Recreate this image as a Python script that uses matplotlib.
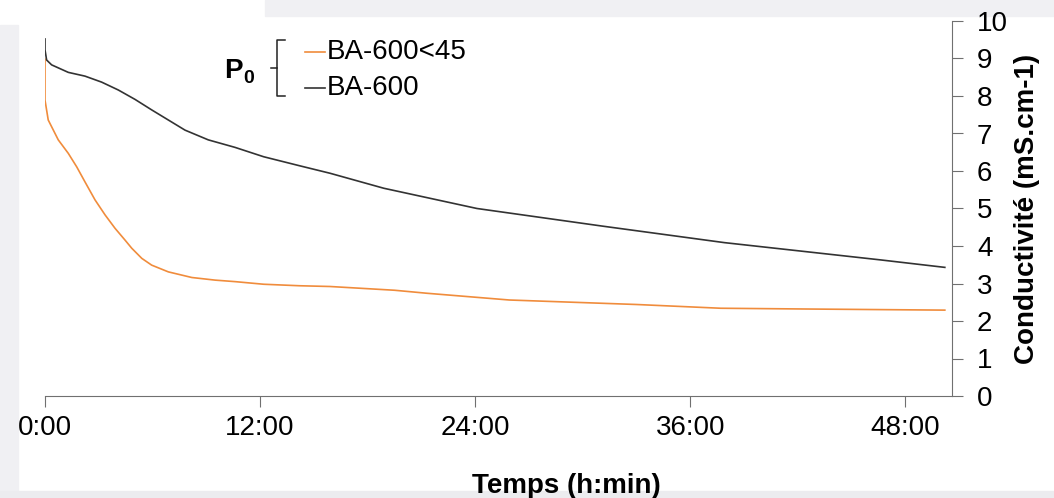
import matplotlib.pyplot as plt
from matplotlib.lines import Line2D
from matplotlib.patches import Rectangle

plt.rcParams['font.family'] = ['Liberation Sans', 'DejaVu Sans']

# Temps (heures) et conductivité (mS/cm)
t_ba600 = [0, 0, 0.09, 0.37, 1.30, 2.23, 3.16, 4.09, 5.02, 5.95, 6.88, 7.81,
           9.11, 10.6, 12.2, 14.2, 15.9, 18.9, 24.1, 31.1, 37.9, 46.6, 50.2]
c_ba600 = [9.52, 9.23, 8.96, 8.83, 8.63, 8.53, 8.37, 8.16, 7.91, 7.63, 7.36, 7.09,
           6.83, 6.63, 6.38, 6.14, 5.94, 5.54, 5.0, 4.53, 4.09, 3.63, 3.43]

t_ba600_45 = [0, 0, 0.18, 0.74, 1.30, 1.77, 2.23, 2.79, 3.35, 3.91, 4.46, 4.84,
              5.40, 5.95, 6.88, 8.19, 9.49, 10.6, 12.2, 14.2, 15.9, 19.5, 21.3,
              25.9, 33, 37.7, 42.4, 50.2]
c_ba600_45 = [8.98, 7.89, 7.36, 6.83, 6.47, 6.11, 5.71, 5.23, 4.83, 4.47, 4.16, 3.94,
              3.67, 3.49, 3.31, 3.16, 3.09, 3.05, 2.98, 2.94, 2.92, 2.82, 2.74,
              2.56, 2.44, 2.34, 2.32, 2.29]

xticks = [0, 12, 24, 36, 48]
xticklabels = ['0:00', '12:00', '24:00', '36:00', '48:00']
yticks = list(range(0, 11))

W, H = 1054, 498
fig = plt.figure(figsize=(W / 100, H / 100), dpi=100)


def fx(x):
    return x / W


def fy(y):
    return 1 - y / H


# fond légèrement grisé sur les bords
fig.add_artist(Rectangle((fx(265), fy(16)), fx(W - 265), fy(0) - fy(16),
                         transform=fig.transFigure, color='#f0f0f3', zorder=0))
fig.add_artist(Rectangle((0, 0), fx(18), fy(25), transform=fig.transFigure,
                         color='#f0f0f3', zorder=0))
fig.add_artist(Rectangle((0, 0), 1, fy(491), transform=fig.transFigure,
                         color='#ececef', zorder=0))

ax = fig.add_axes([fx(45), fy(396), fx(952 - 45), fy(21) - fy(396)])
ax.patch.set_alpha(0)

ax.plot(t_ba600_45, c_ba600_45, color='#F08C3C', lw=1.2)
ax.plot(t_ba600, c_ba600, color='#333333', lw=1.2)

ax.set_xlim(0, 50.6)
ax.set_ylim(0, 10)
ax.set_xticks(xticks)
ax.set_xticklabels(xticklabels)
ax.set_yticks(yticks)

ax.spines['left'].set_visible(False)
ax.spines['top'].set_visible(False)
ax.spines['bottom'].set_color('#707070')
ax.spines['right'].set_color('#707070')
ax.yaxis.tick_right()
ax.yaxis.set_label_position('right')
ax.tick_params(axis='both', direction='out', length=8, color='#707070',
               labelsize=20, pad=6)
ax.tick_params(axis='y', pad=10)

ax.set_ylabel('Conductivité (mS.cm-1)', fontsize=20, fontweight='bold',
              labelpad=4)
fig.text(fx(566), fy(493), 'Temps (h:min)', fontsize=20, fontweight='bold',
         ha='center', va='baseline')

# légende avec accolade
fig.text(fx(224), fy(78), 'P', fontsize=20, fontweight='bold', va='baseline')
fig.text(fx(243), fy(83), '0', fontsize=14, fontweight='bold', va='baseline')
bracket = [([fx(285), fx(277), fx(277), fx(285)], [fy(40), fy(40), fy(96), fy(96)]),
           ([fx(271), fx(277)], [fy(68), fy(68)])]
for xs, ys in bracket:
    fig.add_artist(Line2D(xs, ys, transform=fig.transFigure, color='#222222', lw=1.1))
fig.add_artist(Line2D([fx(305), fx(325)], [fy(52), fy(52)], transform=fig.transFigure,
                      color='#F08C3C', lw=1.2))
fig.add_artist(Line2D([fx(305), fx(325)], [fy(88), fy(88)], transform=fig.transFigure,
                      color='#333333', lw=1.2))
fig.text(fx(327), fy(52), 'BA-600<45', fontsize=20, va='center')
fig.text(fx(327), fy(88), 'BA-600', fontsize=20, va='center')

fig.savefig('out.png', dpi=100)
